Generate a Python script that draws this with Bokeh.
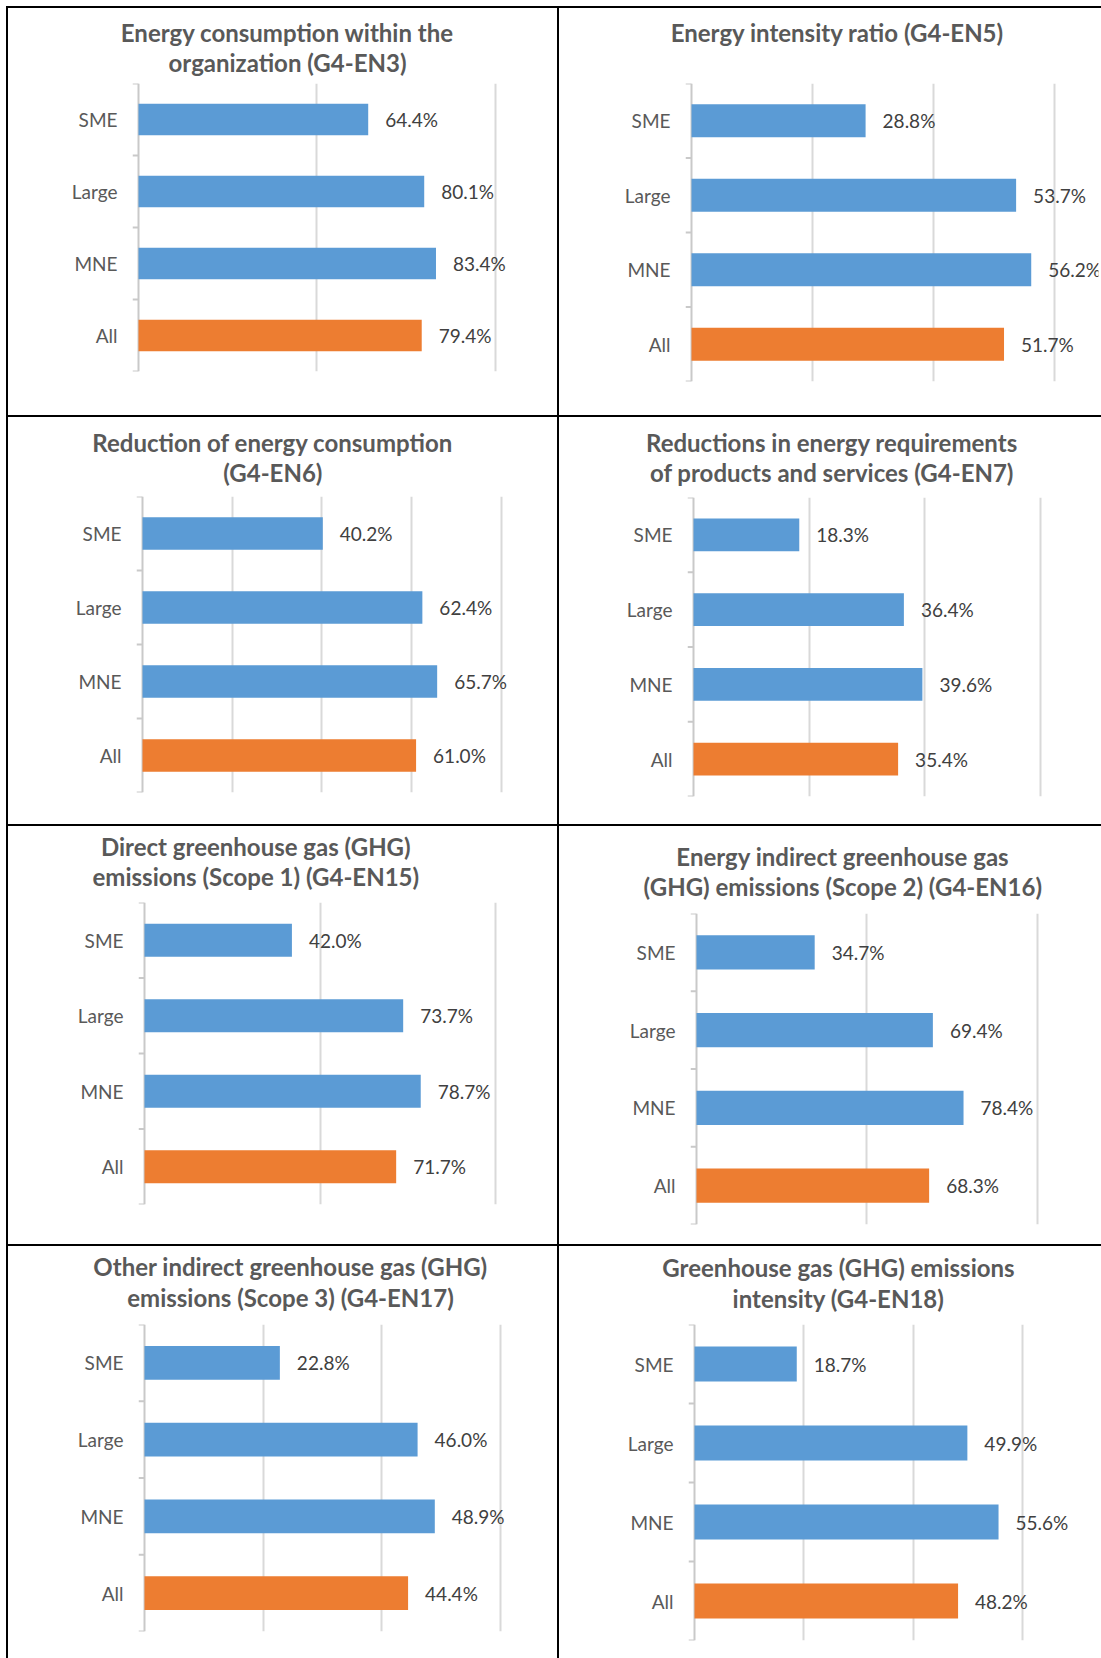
from bokeh.plotting import figure
from bokeh.models import (Range1d, FactorRange, Grid, FixedTicker, Span,
                          Spacer, ColumnDataSource)
from bokeh.layouts import row, column
from bokeh.core.properties import value
from bokeh.embed import file_html
from bokeh.resources import INLINE

# ---------------------------------------------------------------- data
CATEGORIES = ["SME", "Large", "MNE", "All"]

EN3 = [64.4, 80.1, 83.4, 79.4]
EN5 = [28.8, 53.7, 56.2, 51.7]
EN6 = [40.2, 62.4, 65.7, 61.0]
EN7 = [18.3, 36.4, 39.6, 35.4]
EN15 = [42.0, 73.7, 78.7, 71.7]
EN16 = [34.7, 69.4, 78.4, 68.3]
EN17 = [22.8, 46.0, 48.9, 44.4]
EN18 = [18.7, 49.9, 55.6, 48.2]

TITLES = [
    ["Energy consumption within the", "organization (G4-EN3)"],
    ["Energy intensity ratio (G4-EN5)"],
    ["Reduction of energy consumption", "(G4-EN6)"],
    ["Reductions in energy requirements", "of products and services (G4-EN7)"],
    ["Direct greenhouse gas (GHG)", "emissions (Scope 1) (G4-EN15)"],
    ["Energy indirect greenhouse gas", "(GHG) emissions (Scope 2) (G4-EN16)"],
    ["Other indirect greenhouse gas (GHG)", "emissions (Scope 3) (G4-EN17)"],
    ["Greenhouse gas (GHG) emissions", "intensity (G4-EN18)"],
]
SERIES = [EN3, EN5, EN6, EN7, EN15, EN16, EN17, EN18]
AXIS_MAX = [100, 60, 80, 60, 100, 100, 60, 60]
GRID_STEP = [50, 20, 20, 20, 50, 50, 20, 20]

# ---------------------------------------------------------------- styling
FONT = "Lato"
BLUE = "#5B9BD5"
ORANGE = "#ED7D31"
GRID_GREY = "#D9D9D9"
AXIS_GREY = "#C9C9C9"
TITLE_GREY = "#595959"
LABEL_GREY = "#595959"
VALUE_GREY = "#404040"
LABEL_SIZE = "19px"
TITLE_SIZE = "24px"

# ---------------------------------------------------------------- page geometry (px)
PAGE_W = 1101
LEFT_MARGIN = 6
TOP_MARGIN = 6
RULE = 2
COL_X = [8, 559]
COL_W = [549, 542]
ROW_Y = [8, 417, 826, 1246]
ROW_H = [407, 407, 418, 412]
TICK = 6
TITLE_GAP = 4
RIGHT_PAD = 3
TITLE_NUDGE = -1.0

# per panel: value-axis line x, last gridline x, plot top, plot bottom,
# title centre x, title line centres y
FRAMES = [
    (137.5, 494.2, 83, 371, 287, [32.5, 62.7]),
    (691.5, 1054.2, 83, 380.5, 837, [32.5]),
    (141.7, 500.5, 496, 791.5, 272.3, [442.8, 473.0]),
    (693.4, 1040.2, 497, 796.5, 831.4, [442.8, 473.0]),
    (143.5, 494.5, 902, 1204.5, 255.3, [846.7, 876.7]),
    (695.7, 1036.3, 913, 1224.5, 842.3, [856.7, 887.2]),
    (143.8, 500.0, 1323.5, 1631, 290.0, [1266.7, 1298.0]),
    (693.8, 1021.9, 1323.5, 1640, 838.0, [1268.3, 1298.7]),
]


def make_title(i, w, t_h, cx, cy):
    """Heading block above a chart, laid out in cell pixels (y down)."""
    _, _, _, _, tx, tys = FRAMES[i]
    p = figure(width=w, height=t_h,
               x_range=Range1d(0, w), y_range=Range1d(t_h, 0),
               x_axis_type=None, y_axis_type=None,
               toolbar_location=None, output_backend="svg",
               min_border=0, min_border_left=0, min_border_right=0,
               min_border_top=0, min_border_bottom=0,
               outline_line_color=None,
               background_fill_color="white", border_fill_color="white")
    lines = TITLES[i]
    p.text(x=[tx - cx] * len(lines), y=[ty - cy + TITLE_NUDGE for ty in tys],
           text=lines, text_align="center", text_baseline="middle",
           text_font=value(FONT), text_font_size=TITLE_SIZE,
           text_font_style="bold", text_color=TITLE_GREY)
    return p


def make_panel(i):
    r, c = divmod(i, 2)
    cx, cy, w, h = COL_X[c], ROW_Y[r], COL_W[c], ROW_H[r]
    ax, gx, top, bot, _, _ = FRAMES[i]
    vmax, step = AXIS_MAX[i], GRID_STEP[i]
    vals = SERIES[i]

    left = int(round(ax - TICK - cx))
    t_h = int(round(top - cy)) - TITLE_GAP
    head = make_title(i, w, t_h, cx, cy)

    ch = h - t_h
    ppp = (gx - ax) / vmax
    x0 = -TICK / ppp
    x1 = x0 + (w - RIGHT_PAD - left) / ppp
    mb_bot = int(round(cy + h - bot))

    factors = CATEGORIES[::-1]
    p = figure(width=w, height=ch,
               x_range=Range1d(x0, x1),
               y_range=FactorRange(factors=factors),
               x_axis_type=None,
               toolbar_location=None, output_backend="svg",
               min_border_left=left, min_border_right=RIGHT_PAD,
               min_border_top=TITLE_GAP, min_border_bottom=mb_bot,
               outline_line_color=None,
               background_fill_color="white", border_fill_color="white")

    p.ygrid.visible = False
    p.add_layout(Grid(dimension=0,
                      ticker=FixedTicker(ticks=list(range(step, vmax + 1, step))),
                      grid_line_color=GRID_GREY, grid_line_width=2))

    yax = p.yaxis[0]
    yax.axis_line_color = None
    yax.major_tick_line_color = None
    yax.major_tick_in = 0
    yax.major_tick_out = 0
    yax.major_label_standoff = 15
    yax.major_label_text_font = FONT
    yax.major_label_text_font_size = LABEL_SIZE
    yax.major_label_text_color = LABEL_GREY

    # category axis line at zero and tick marks between categories
    p.add_layout(Span(location=0, dimension="height", line_color=AXIS_GREY,
                      line_width=2, level="underlay"))
    bounds = [(f, -0.5) for f in factors] + [(factors[-1], 0.5)]
    p.segment(x0=[x0] * len(bounds), x1=[0] * len(bounds), y0=bounds, y1=bounds,
              line_color=AXIS_GREY, line_width=2)

    src = ColumnDataSource(dict(
        cat=CATEGORIES,
        val=vals,
        color=[ORANGE if cat == "All" else BLUE for cat in CATEGORIES],
        label=[f"{v:.1f}%" for v in vals],
    ))
    p.hbar(y="cat", left=0, right="val", height=0.44, fill_color="color",
           line_color=None, source=src)
    p.text(x="val", y="cat", text="label", x_offset=17, text_align="left",
           text_baseline="middle", text_font=value(FONT),
           text_font_size=LABEL_SIZE, text_color=VALUE_GREY, source=src)

    # the heading sits in its own row so its frame keeps the full cell width
    return column(row(head), p)


def rule(w, h):
    return Spacer(width=w, height=h, styles={"background-color": "#000000"})


cells = [make_panel(i) for i in range(8)]
inner_w = PAGE_W - LEFT_MARGIN

rows = [Spacer(width=PAGE_W, height=TOP_MARGIN),
        row(Spacer(width=LEFT_MARGIN, height=RULE), rule(inner_w, RULE))]
for r in range(4):
    hgt = ROW_H[r]
    rows.append(row(Spacer(width=LEFT_MARGIN, height=hgt), rule(RULE, hgt),
                    cells[2 * r], rule(RULE, hgt), cells[2 * r + 1]))
    if r < 3:
        rows.append(row(Spacer(width=LEFT_MARGIN, height=RULE), rule(inner_w, RULE)))

page = column(*rows)

with open("out.html", "w") as fh:
    fh.write(file_html(page, INLINE, title="G4 energy and emissions indicators"))
